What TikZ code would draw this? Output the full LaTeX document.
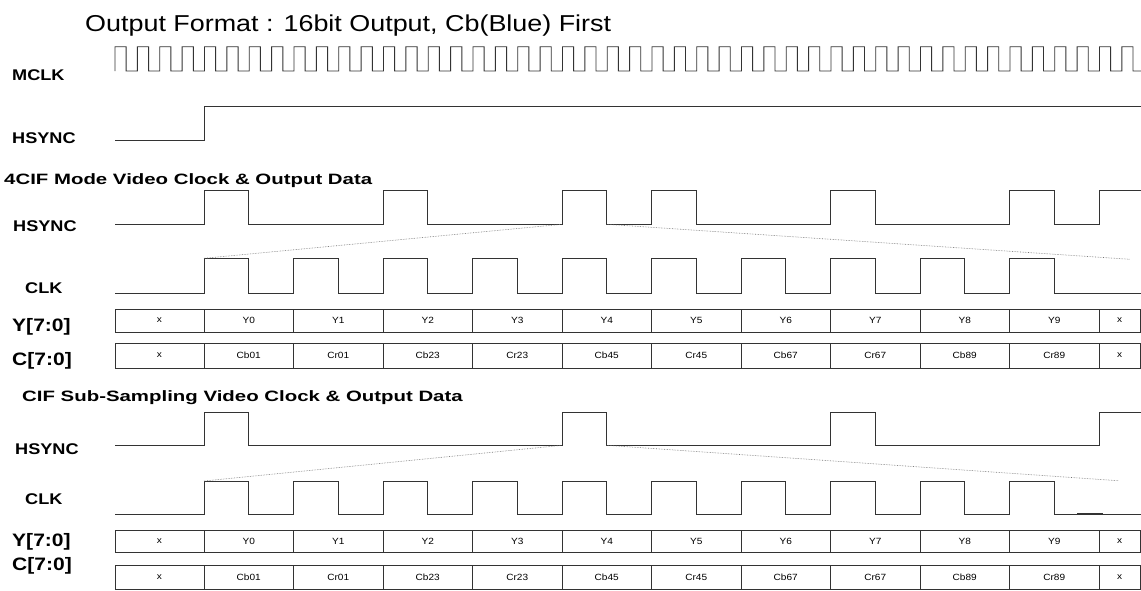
\documentclass[tikz,border=0pt]{standalone}
\usepackage{fontspec}
\setmainfont{Liberation Sans}[FakeStretch=1.17]
\newfontfamily\sectfont{Liberation Sans}[FakeStretch=1.36]
\newfontfamily\cellfont{Liberation Sans}[FakeStretch=1.12]
\tikzset{
  wave/.style={draw=black!80, line width=0.9pt, line join=miter},
  guide/.style={draw=black!55, line width=0.6pt, densely dotted},
  sig/.style={font=\bfseries\fontsize{15.5}{18}\selectfont, anchor=base west, inner sep=0pt},
  bus/.style={font=\bfseries\fontsize{18}{20}\selectfont, anchor=base west, inner sep=0pt},
  sect/.style={font=\sectfont\bfseries\fontsize{15}{18}\selectfont, anchor=base west, inner sep=0pt},
  cell/.style={draw=black!80, line width=0.8pt, inner sep=0pt, outer sep=0pt, anchor=west,
               font=\cellfont\fontsize{9}{10}\selectfont},
}
\newcommand\datarow[4]{%
  \node[cell, minimum width=89pt, minimum height=#3] (#1-0) at (115,#2) {x};
  \foreach \lab [count=\i] in {#4} {
    \node[cell, minimum width=89.5pt, minimum height=#3] (#1-\i) at ({204+(\i-1)*89.5},#2) {\lab};
  }
  \node[cell, minimum width=41.5pt, minimum height=#3] (#1-11) at (1099,#2) {x};
}
\begin{document}
\begin{tikzpicture}[x=1pt,y=-1pt]
\useasboundingbox (0,0) rectangle (1141,590);

% title
\node[anchor=base west, inner sep=0pt, font=\fontsize{23}{26}\selectfont] (title) at (85,31.7)
  {Output Format : 16bit Output, Cb(Blue) First};

% MCLK
\node[sig] (mclk) at (12,80) {MCLK};
\draw[wave] (115,71) \foreach \k in {0,...,44}{
   -- ({115+\k*22.374},46.7) -- ({126.187+\k*22.374},46.7)
   -- ({126.187+\k*22.374},71) -- ({137.374+\k*22.374},71)}
   -- (1121.8,46.7) -- (1133,46.7) -- (1133,71) -- (1141,71);

% top HSYNC
\node[sig] (hs0) at (12,143.3) {HSYNC};
\draw[wave] (115,140) -- (204,140) -- (204,106) -- (1141,106);

% ---------- 4CIF section ----------
\node[sect] (t1) at (4,184) {4CIF Mode Video Clock \& Output Data};
\node[sig] (hs1) at (13,231.7) {HSYNC};
\draw[wave] (115,224.3) \foreach \r in {0,4,8,10,14,18}{
   -- ({204+\r*44.75},224.3) -- ({204+\r*44.75},190.7)
   -- ({204+(\r+1)*44.75},190.7) -- ({204+(\r+1)*44.75},224.3)}
   -- (1099,224.3) -- (1099,190.7) -- (1141,190.7);

\node[sig] (clk1) at (25,293.3) {CLK};
\draw[wave] (115,293) \foreach \r in {0,2,...,18}{
   -- ({204+\r*44.75},293) -- ({204+\r*44.75},258.3)
   -- ({204+(\r+1)*44.75},258.3) -- ({204+(\r+1)*44.75},293)}
   -- (1141,293);

\coordinate (g1a) at (204,258.3);
\coordinate (g1b) at (562,224.3);
\coordinate (g1c) at (606.7,224.3);
\coordinate (g1d) at (1130,259.3);
\draw[guide] (g1a) -- (g1b);
\draw[guide] (g1c) -- (g1d);

\node[bus] (yb1) at (12,331) {Y[7:0]};
\node[bus] (cb1) at (12,365) {C[7:0]};
\datarow{ya}{320.5}{23pt}{Y0,Y1,Y2,Y3,Y4,Y5,Y6,Y7,Y8,Y9}
\datarow{ca}{355.5}{25pt}{Cb01,Cr01,Cb23,Cr23,Cb45,Cr45,Cb67,Cr67,Cb89,Cr89}

% ---------- CIF section ----------
\node[sect] (t2) at (22,401) {CIF Sub-Sampling Video Clock \& Output Data};
\node[sig] (hs2) at (15,454) {HSYNC};
\draw[wave] (115,445.3) \foreach \r in {0,8,14}{
   -- ({204+\r*44.75},445.3) -- ({204+\r*44.75},412.3)
   -- ({204+(\r+1)*44.75},412.3) -- ({204+(\r+1)*44.75},445.3)}
   -- (1099,445.3) -- (1099,412.3) -- (1141,412.3);

\node[sig] (clk2) at (25,504) {CLK};
\draw[wave] (115,514) \foreach \r in {0,2,...,18}{
   -- ({204+\r*44.75},514) -- ({204+\r*44.75},481)
   -- ({204+(\r+1)*44.75},481) -- ({204+(\r+1)*44.75},514)}
   -- (1141,514);
\draw[draw=black!80, line width=2pt] (1077,514) -- (1103,514);

\coordinate (g2a) at (204,481);
\coordinate (g2b) at (562,445.3);
\coordinate (g2c) at (606.7,445.3);
\coordinate (g2d) at (1118,480.7);
\draw[guide] (g2a) -- (g2b);
\draw[guide] (g2c) -- (g2d);

\node[bus] (yb2) at (12,546) {Y[7:0]};
\node[bus] (cb2) at (12,570) {C[7:0]};
\datarow{yb}{541}{22pt}{Y0,Y1,Y2,Y3,Y4,Y5,Y6,Y7,Y8,Y9}
\datarow{cb}{577}{24pt}{Cb01,Cr01,Cb23,Cr23,Cb45,Cr45,Cb67,Cr67,Cb89,Cr89}
\end{tikzpicture}
\end{document}
